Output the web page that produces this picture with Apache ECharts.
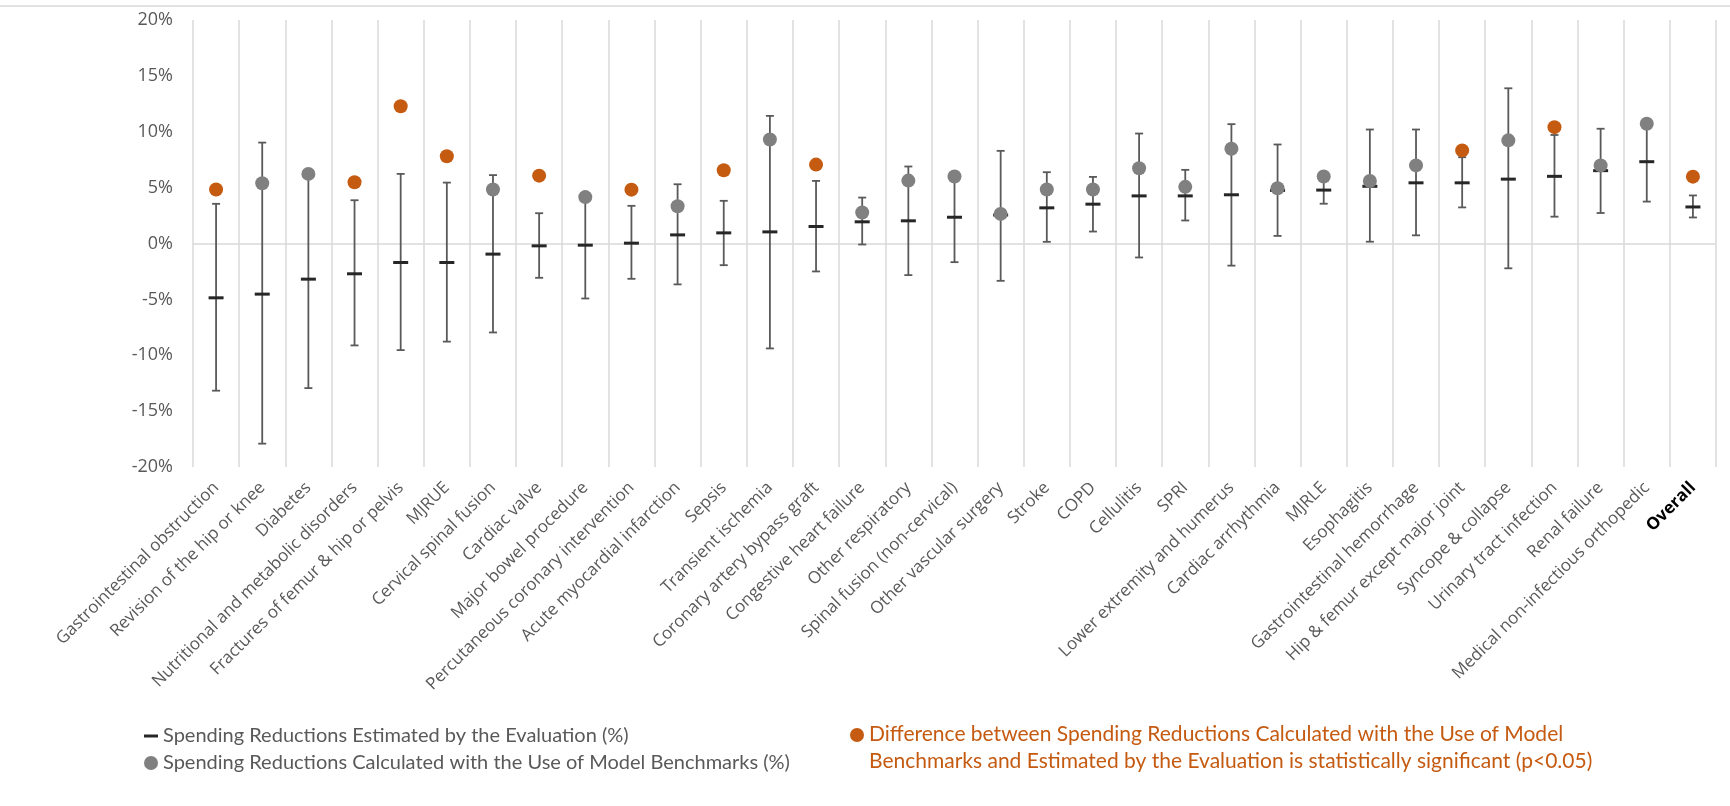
<!DOCTYPE html>
<html>
<head>
<meta charset="utf-8">
<title>Spending reductions by episode</title>
<script src="https://cdn.jsdelivr.net/npm/echarts@6/dist/echarts.min.js"></script>
<style>
  html, body { margin: 0; padding: 0; background: #ffffff; }
  #chart { width: 1730px; height: 806px; }
</style>
</head>
<body>
<div id="chart"></div>
<script>
// Episode categories (last one is the overall estimate)
const categories = [
  'Gastrointestinal obstruction', 'Revision of the hip or knee', 'Diabetes',
  'Nutritional and metabolic disorders', 'Fractures of femur & hip or pelvis', 'MJRUE',
  'Cervical spinal fusion', 'Cardiac valve', 'Major bowel procedure',
  'Percutaneous coronary intervention', 'Acute myocardial infarction', 'Sepsis',
  'Transient ischemia', 'Coronary artery bypass graft', 'Congestive heart failure',
  'Other respiratory', 'Spinal fusion (non-cervical)', 'Other vascular surgery',
  'Stroke', 'COPD', 'Cellulitis', 'SPRI', 'Lower extremity and humerus',
  'Cardiac arrhythmia', 'MJRLE', 'Esophagitis', 'Gastrointestinal hemorrhage',
  'Hip & femur except major joint', 'Syncope & collapse', 'Urinary tract infection',
  'Renal failure', 'Medical non-infectious orthopedic', 'Overall'
];

// Spending reductions estimated by the evaluation (%), with confidence bounds
const estimated = [-4.86, -4.53, -3.19, -2.71, -1.70, -1.70, -0.95, -0.21, -0.15, 0.03, 0.77,
  0.95, 1.04, 1.52, 1.94, 2.03, 2.35, 2.55, 3.19, 3.52, 4.26, 4.26, 4.36, 4.75, 4.78, 5.12,
  5.43, 5.43, 5.76, 6.01, 6.52, 7.32, 3.27];
const lowerBound = [-13.17, -17.91, -12.94, -9.12, -9.54, -8.78, -7.96, -3.07, -4.92, -3.16,
  -3.66, -1.94, -9.39, -2.50, -0.09, -2.83, -1.67, -3.34, 0.15, 1.07, -1.25, 2.06, -1.98, 0.68,
  3.56, 0.16, 0.73, 3.23, -2.22, 2.40, 2.73, 3.75, 2.33];
const upperBound = [3.55, 9.03, 6.00, 3.87, 6.23, 5.45, 6.12, 2.71, 4.00, 3.37, 5.30, 3.82,
  11.42, 5.60, 4.11, 6.89, 5.80, 8.29, 6.38, 5.96, 9.84, 6.59, 10.68, 8.86, 5.80, 10.20, 10.20,
  7.72, 13.89, 9.71, 10.27, 10.50, 4.30];

// Spending reductions calculated with model benchmarks (%)
const benchmark = [4.83, 5.39, 6.23, 5.48, 12.28, 7.81, 4.83, 6.07, 4.15, 4.82, 3.34, 6.56,
  9.30, 7.06, 2.77, 5.63, 5.99, 2.65, 4.83, 4.83, 6.74, 5.07, 8.48, 4.94, 6.00, 5.59, 6.99,
  8.33, 9.23, 10.41, 6.99, 10.72, 5.98];

// 1 = difference between benchmark and evaluation is significant (p<0.05)
const significant = [1, 0, 0, 1, 1, 1, 0, 1, 0, 1, 0, 1, 0, 1, 0, 0, 0, 0, 0, 0, 0, 0, 0, 0,
  0, 0, 0, 1, 0, 1, 0, 0, 1];

// Value axis ticks
const yMin = -20, yMax = 20, yStep = 5;

const NAME_EST = 'Spending Reductions Estimated by the Evaluation (%)';
const NAME_BENCH = 'Spending Reductions Calculated with the Use of Model Benchmarks (%)';
const NAME_SIG = 'Difference between Spending Reductions Calculated with the Use of Model\nBenchmarks and Estimated by the Evaluation is statistically significant (p<0.05)';

const GRID_COLOR = '#d9d9d9';
const TEXT_COLOR = '#595959';
const BAR_COLOR = '#595959';
const GRAY = '#808080';
const ORANGE = '#c55a11';
const FONT = '"Open Sans", sans-serif';
const LEGEND_FONT = 'Lato, sans-serif';
const LEGEND_SIZE = 20;

const barData = categories.map((c, i) => [i, lowerBound[i], upperBound[i]]);
const grayData = benchmark.map((v, i) => (significant[i] ? '-' : v));
const orangeData = benchmark.map((v, i) => (significant[i] ? v : '-'));

const chart = echarts.init(document.getElementById('chart'), null, { renderer: 'canvas' });

chart.setOption({
  backgroundColor: '#ffffff',
  animation: false,
  grid: { left: 193, right: 14, top: 20, bottom: 339, containLabel: false },
  graphic: [
    {
      // thin rule across the top of the figure
      type: 'line',
      shape: { x1: 0, y1: 6, x2: 1730, y2: 6 },
      style: { stroke: GRID_COLOR, lineWidth: 1.5 },
      silent: true
    },
    {
      // two-line key for the significance marker
      type: 'group',
      left: 850, top: 721,
      silent: true,
      children: [
        { type: 'circle', shape: { cx: 7, cy: 14, r: 7 }, style: { fill: ORANGE } },
        {
          type: 'text', x: 19, y: 0,
          style: {
            text: NAME_SIG, fill: ORANGE, font: '21px ' + LEGEND_FONT,
            lineHeight: 27, verticalAlign: 'top', align: 'left'
          }
        }
      ]
    }
  ],
  legend: [
    {
      data: [{ name: NAME_EST, icon: 'rect' }],
      left: 144, top: 726, itemWidth: 14, itemHeight: 3, itemGap: 0,
      selectedMode: false, padding: 0,
      itemStyle: { opacity: 1 },
      textStyle: { color: TEXT_COLOR, fontSize: LEGEND_SIZE, fontFamily: LEGEND_FONT }
    },
    {
      data: [{ name: NAME_BENCH, icon: 'circle' }],
      left: 144, top: 753, itemWidth: 14, itemHeight: 14, itemGap: 0,
      selectedMode: false, padding: 0,
      itemStyle: { opacity: 1 },
      textStyle: { color: TEXT_COLOR, fontSize: LEGEND_SIZE, fontFamily: LEGEND_FONT }
    }
  ],
  xAxis: {
    type: 'category',
    data: categories,
    boundaryGap: true,
    axisLine: { show: false, onZero: false },
    axisTick: { show: false },
    splitLine: { show: true, lineStyle: { color: GRID_COLOR, width: 1.5 } },
    axisLabel: {
      interval: 0,
      rotate: 45,
      margin: 18,
      color: TEXT_COLOR,
      fontSize: 17,
      fontFamily: FONT,
      formatter: v => (v === 'Overall' ? '{b|' + v + '}' : v),
      rich: { b: { fontWeight: 'bold', color: '#000000', fontSize: 17, fontFamily: FONT } }
    }
  },
  yAxis: {
    type: 'value',
    min: yMin, max: yMax, interval: yStep,
    axisLine: { show: false },
    axisTick: { show: false },
    splitLine: { show: false },
    axisLabel: {
      formatter: '{value}%',
      color: TEXT_COLOR,
      fontSize: 18,
      fontFamily: FONT,
      margin: 20
    }
  },
  series: [
    {
      name: 'interval',
      type: 'custom',
      data: barData,
      encode: { x: 0, y: [1, 2] },
      z: 2,
      silent: true,
      markLine: {
        silent: true,
        symbol: 'none',
        label: { show: false },
        lineStyle: { color: GRID_COLOR, width: 1.5, type: 'solid' },
        data: [{ yAxis: 0 }],
        z: 1
      },
      renderItem(params, api) {
        const x = api.value(0);
        const lo = api.coord([x, api.value(1)]);
        const hi = api.coord([x, api.value(2)]);
        const cap = 4;
        const style = { stroke: BAR_COLOR, lineWidth: 1.8 };
        return {
          type: 'group',
          children: [
            { type: 'line', shape: { x1: hi[0], y1: hi[1], x2: lo[0], y2: lo[1] }, style },
            { type: 'line', shape: { x1: hi[0] - cap, y1: hi[1], x2: hi[0] + cap, y2: hi[1] }, style },
            { type: 'line', shape: { x1: lo[0] - cap, y1: lo[1], x2: lo[0] + cap, y2: lo[1] }, style }
          ]
        };
      }
    },
    {
      name: NAME_EST,
      type: 'scatter',
      data: estimated,
      symbol: 'rect',
      symbolSize: [15, 3],
      itemStyle: { color: '#262626', opacity: 1 },
      z: 3
    },
    {
      name: NAME_BENCH,
      type: 'scatter',
      data: grayData,
      symbol: 'circle',
      symbolSize: 14,
      itemStyle: { color: GRAY, opacity: 1 },
      z: 4
    },
    {
      name: NAME_SIG,
      type: 'scatter',
      data: orangeData,
      symbol: 'circle',
      symbolSize: 14,
      itemStyle: { color: ORANGE, opacity: 1 },
      z: 4
    }
  ]
});
</script>
</body>
</html>
